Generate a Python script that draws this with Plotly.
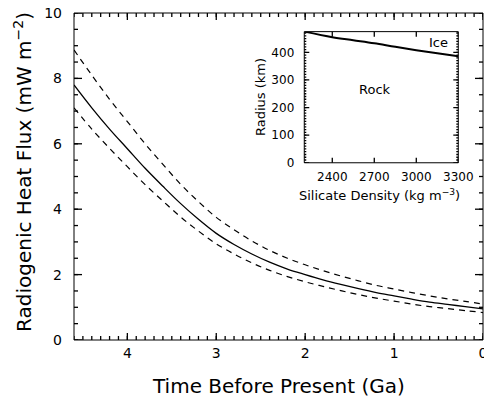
import numpy as np
import plotly.graph_objects as go

# Main panel data (time before present, Ga)
time_ga = [4.6, 4.4, 4.2, 4.0, 3.8, 3.6, 3.4, 3.2, 3.0, 2.8, 2.6, 2.4,
           2.2, 2.0, 1.8, 1.6, 1.4, 1.2, 1.0, 0.8, 0.6, 0.4, 0.2, 0.0]
flux_mid = [7.80, 7.10, 6.45, 5.85, 5.25, 4.70, 4.17, 3.69, 3.26, 2.92, 2.63, 2.38,
            2.17, 2.00, 1.84, 1.70, 1.57, 1.45, 1.35, 1.25, 1.16, 1.09, 1.02, 0.95]
flux_high = [8.87, 8.10, 7.36, 6.68, 6.00, 5.37, 4.76, 4.23, 3.75, 3.37, 3.03, 2.74,
             2.50, 2.30, 2.12, 1.96, 1.81, 1.67, 1.56, 1.45, 1.35, 1.26, 1.18, 1.10]
flux_low = [7.10, 6.45, 5.86, 5.30, 4.75, 4.25, 3.76, 3.33, 2.94, 2.63, 2.36, 2.13,
            1.94, 1.78, 1.64, 1.51, 1.39, 1.28, 1.19, 1.10, 1.02, 0.96, 0.90, 0.84]

# Inset data
density = [2200, 2400, 2550, 2700, 2850, 3000, 3150, 3300]
rock_radius = [475, 455, 444, 433, 420, 408, 397, 386]

# Tick values
x_major = [4, 3, 2, 1, 0]
x_minor = np.round(np.arange(0, 4.6001, 0.1), 2)
y_major = [0, 2, 4, 6, 8, 10]
y_minor = np.arange(0, 10.001, 0.5)
inset_x_major = [2400, 2700, 3000, 3300]
inset_y_major = [0, 100, 200, 300, 400]
inset_y_minor = np.arange(0, 475, 10)

FONT = "DejaVu Sans"
INSET_XDOM = [0.563, 0.9396]
INSET_YDOM = [0.542, 0.943]

fig = go.Figure()
dash = dict(color="black", width=1.2, dash="6px,5px")
fig.add_trace(go.Scatter(x=time_ga, y=flux_high, mode="lines", line_shape="spline",
                         line=dash, showlegend=False))
fig.add_trace(go.Scatter(x=time_ga, y=flux_mid, mode="lines", line_shape="spline",
                         line=dict(color="black", width=1.3), showlegend=False))
fig.add_trace(go.Scatter(x=time_ga, y=flux_low, mode="lines", line_shape="spline",
                         line=dash, showlegend=False))
fig.add_trace(go.Scatter(x=density, y=rock_radius, mode="lines", line_shape="spline",
                         line=dict(color="black", width=2), xaxis="x2", yaxis="y2",
                         showlegend=False))


def lab_ax(size, **kw):
    d = dict(ticks="", showline=False, showgrid=False, zeroline=False, automargin=False,
             tickfont=dict(family=FONT, size=size, color="black"))
    d.update(kw)
    return d


fig.update_layout(
    template="none",
    width=484, height=397,
    margin=dict(l=74, r=1, t=13, b=57, autoexpand=False),
    paper_bgcolor="white", plot_bgcolor="rgba(0,0,0,0)",
    xaxis=lab_ax(14, range=[4.6, 0], tickmode="array", tickvals=x_major,
                 ticklabeloverflow="allow", ticklabelstandoff=3),
    yaxis=lab_ax(14, range=[0, 10], tickmode="array", tickvals=y_major,
                 ticklabelstandoff=11),
    xaxis2=lab_ax(12, domain=INSET_XDOM, anchor="y2", range=[2200, 3300],
                  tickmode="array", tickvals=inset_x_major, ticklabelstandoff=5),
    yaxis2=lab_ax(12, domain=INSET_YDOM, anchor="x2", range=[0, 475],
                  tickmode="array", tickvals=inset_y_major, ticklabelstandoff=9),
)

shapes = []
tick_line = dict(color="black", width=1.3)


def x_ticks(vals, xref, yref, frac):
    # vertical tick marks on bottom and top edges (inward)
    for v in vals:
        shapes.append(dict(type="line", xref=xref, yref=yref, x0=v, x1=v, y0=0, y1=frac,
                           line=tick_line, layer="above"))
        shapes.append(dict(type="line", xref=xref, yref=yref, x0=v, x1=v, y0=1, y1=1 - frac,
                           line=tick_line, layer="above"))


def y_ticks(vals, xref, yref, frac):
    # horizontal tick marks on left and right edges (inward)
    for v in vals:
        shapes.append(dict(type="line", xref=xref, yref=yref, y0=v, y1=v, x0=0, x1=frac,
                           line=tick_line, layer="above"))
        shapes.append(dict(type="line", xref=xref, yref=yref, y0=v, y1=v, x0=1, x1=1 - frac,
                           line=tick_line, layer="above"))


# main panel ticks (plot area 409 x 327 px)
x_ticks(x_minor, "x", "y domain", 4 / 327)
x_ticks(x_major, "x", "y domain", 7 / 327)
y_ticks(y_minor, "x domain", "y", 4 / 409)
y_ticks(y_major, "x domain", "y", 8 / 409)
# inset ticks (about 154 x 131 px)
x_ticks(inset_x_major, "x2", "y2 domain", 5 / 131)
y_ticks(inset_y_minor, "x2 domain", "y2", 2 / 154)
y_ticks(inset_y_major, "x2 domain", "y2", 5 / 154)

# frames around both panels
for xr, yr in (("x domain", "y domain"), ("x2 domain", "y2 domain")):
    shapes.append(dict(type="rect", xref=xr, yref=yr, x0=0, x1=1, y0=0, y1=1,
                       line=dict(color="black", width=1), fillcolor="rgba(0,0,0,0)",
                       layer="above"))
fig.update_layout(shapes=shapes)

ann_font = dict(family=FONT, color="black")
fig.add_annotation(text="Time Before Present (Ga)", xref="paper", yref="paper",
                   x=0.501, y=-0.1407, xanchor="center", yanchor="middle",
                   showarrow=False, font=dict(size=20, **ann_font))
fig.add_annotation(text="Radiogenic Heat Flux (mW m<sup>−2</sup>)", xref="paper", yref="paper",
                   x=-0.1247, y=0.514, xanchor="center", yanchor="middle", textangle=-90,
                   showarrow=False, font=dict(size=20, **ann_font))
fig.add_annotation(text="Radius (km)", xref="paper", yref="paper",
                   x=0.4548, y=0.743, xanchor="center", yanchor="middle", textangle=-90,
                   showarrow=False, font=dict(size=13, **ann_font))
fig.add_annotation(text="Silicate Density (kg m<sup>−3</sup>)", xref="paper", yref="paper",
                   x=0.748, y=0.4445, xanchor="center", yanchor="middle",
                   showarrow=False, font=dict(size=13, **ann_font))
fig.add_annotation(text="Ice", xref="x2", yref="y2", x=3160, y=437,
                   showarrow=False, font=dict(size=13, **ann_font))
fig.add_annotation(text="Rock", xref="x2", yref="y2", x=2703, y=265,
                   showarrow=False, font=dict(size=13, **ann_font))

fig.write_html("out.html")
